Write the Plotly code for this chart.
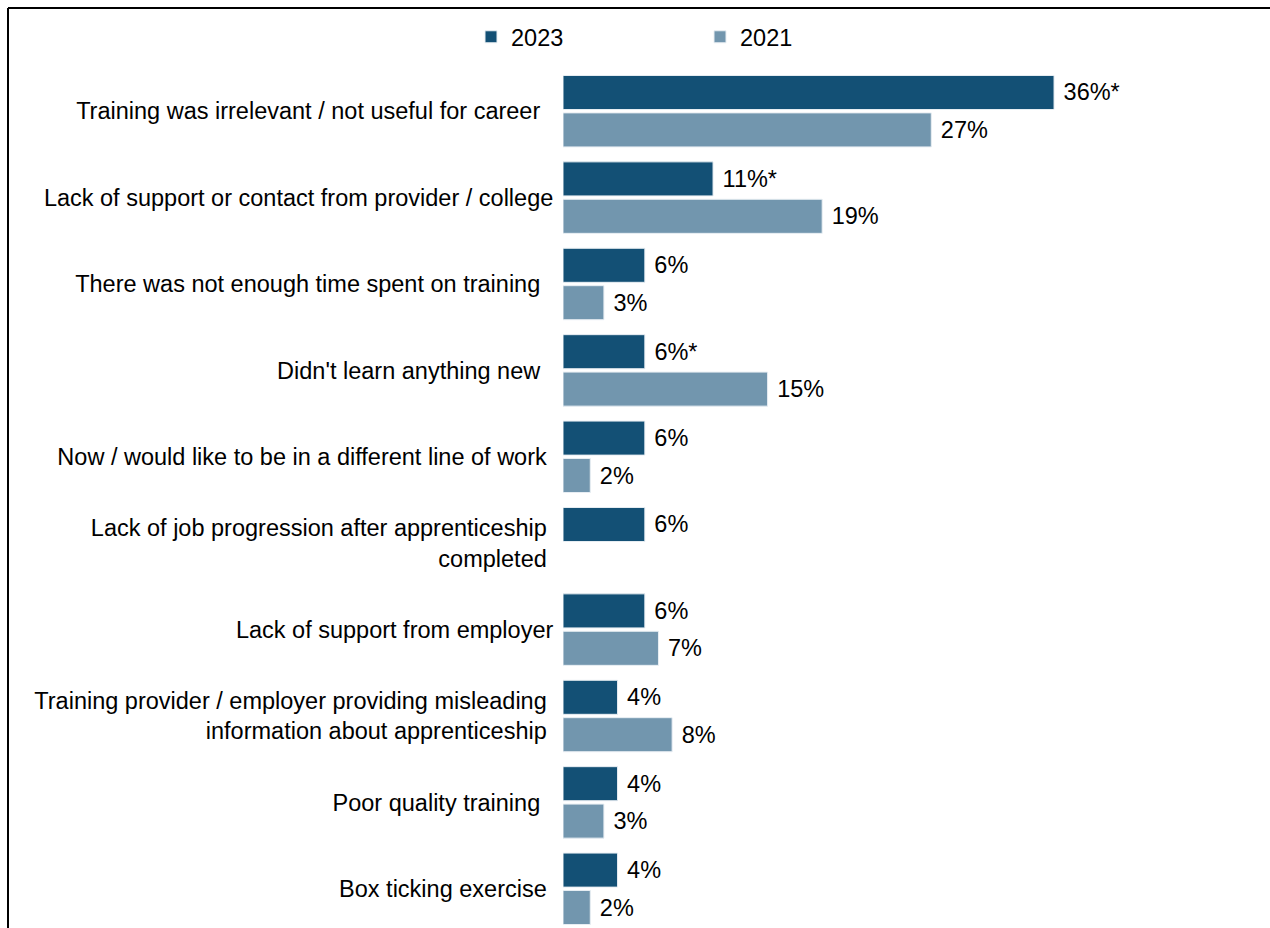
import plotly.graph_objects as go

# Reasons for not completing / dissatisfaction, share of respondents (%)
categories = [
    "Training was irrelevant / not useful for career\u00a0\u00a0",
    "Lack of support or contact from provider / college",
    "There was not enough time spent on training\u00a0\u00a0",
    "Didn't learn anything new\u00a0\u00a0",
    "Now / would like to be in a different line of work\u00a0",
    "Lack of job progression after apprenticeship\u00a0<br>completed\u00a0",
    "Lack of support from employer",
    "Training provider / employer providing misleading\u00a0<br>information about apprenticeship\u00a0",
    "Poor quality training\u00a0\u00a0",
    "Box ticking exercise\u00a0",
]

values_2023 = [36, 11, 6, 6, 6, 6, 6, 4, 4, 4]
values_2021 = [27, 19, 3, 15, 2, None, 7, 8, 3, 2]

# '*' marks a significant change since 2021
sig_2023 = ["*", "*", "", "*", "", "", "", "", "", ""]

labels_2023 = [f"\u00a0{v}%{s}" for v, s in zip(values_2023, sig_2023)]
labels_2021 = ["" if v is None else f"\u00a0{v}%" for v in values_2021]

DARK = "#135075"
LIGHT = "#7296AE"
FONT = "Liberation Sans, Arial, sans-serif"
FS = 23.5

fig = go.Figure()
fig.add_trace(go.Bar(
    name="2023", y=categories, x=values_2023, orientation="h",
    marker=dict(color=DARK, line=dict(color="#e8eef3", width=1)),
    text=labels_2023, textposition="outside", cliponaxis=False,
    textfont=dict(family=FONT, size=FS, color="#000000"),
))
fig.add_trace(go.Bar(
    name="2021", y=categories, x=values_2021, orientation="h",
    marker=dict(color=LIGHT, line=dict(color="#e8eef3", width=1)),
    text=labels_2021, textposition="outside", cliponaxis=False,
    textfont=dict(family=FONT, size=FS, color="#000000"),
))

W, H = 1270, 928
ML, MR, MT, MB = 563, 10, 68, 0
plot_w = W - ML - MR
plot_h = H - MT - MB
px_per_pct = 13.64
row_px = 86.4

fig.update_layout(
    width=W, height=H,
    margin=dict(l=ML, r=MR, t=MT, b=MB, pad=0),
    paper_bgcolor="white", plot_bgcolor="white",
    font=dict(family=FONT, size=FS, color="#000000"),
    barmode="group", bargap=0.134, bargroupgap=0.09,
    showlegend=True,
    legend=dict(
        orientation="h", x=(471 - ML) / plot_w, xanchor="left",
        y=1 + (MT - 37) / plot_h, yanchor="middle",
        font=dict(family=FONT, size=FS, color="#000000"),
        entrywidth=184, entrywidthmode="pixels",
        traceorder="normal", bgcolor="rgba(0,0,0,0)",
    ),
    xaxis=dict(
        range=[0, plot_w / px_per_pct], visible=False, fixedrange=True,
    ),
    yaxis=dict(
        type="category", categoryorder="array", categoryarray=categories,
        range=[-0.5 + plot_h / row_px, -0.5],
        showline=False, showgrid=False, zeroline=False,
        ticks="outside", ticklen=4, tickcolor="rgba(0,0,0,0)",
        tickfont=dict(family=FONT, size=FS, color="#000000"),
    ),
)

# Frame lines along the top and left edge of the chart
fx = lambda px: (px - ML) / plot_w
fy = lambda py: 1 + (MT - py) / plot_h
fig.add_shape(type="line", xref="paper", yref="paper",
              x0=fx(8), x1=fx(W + 5), y0=fy(8), y1=fy(8),
              line=dict(color="#000000", width=2))
fig.add_shape(type="line", xref="paper", yref="paper",
              x0=fx(8), x1=fx(8), y0=fy(8), y1=fy(H + 5),
              line=dict(color="#000000", width=2))

fig.write_html("out.html")
